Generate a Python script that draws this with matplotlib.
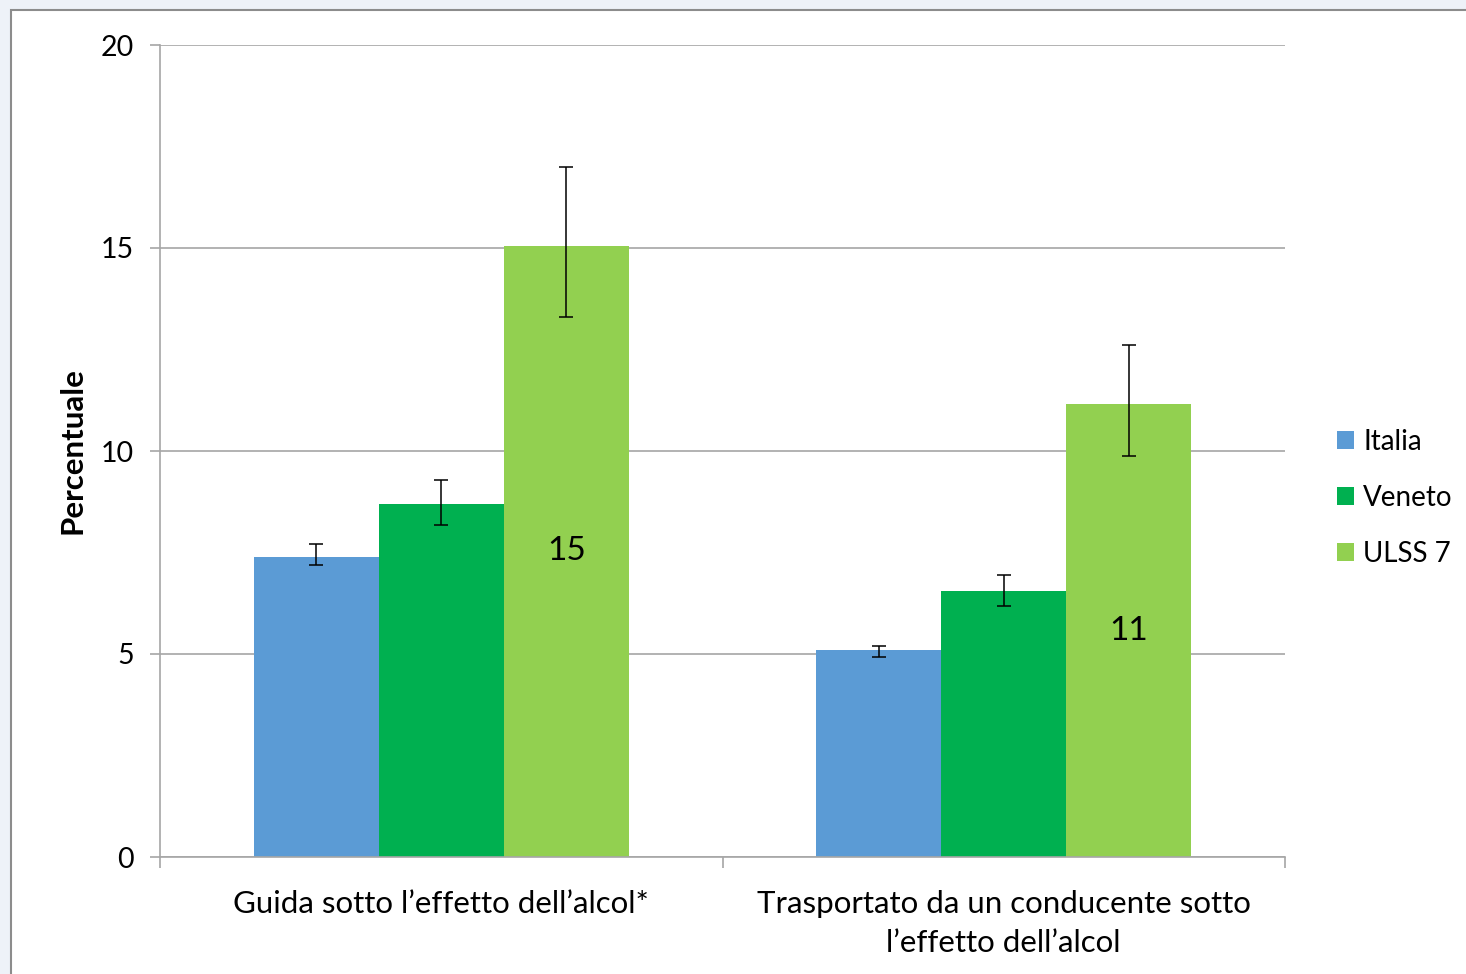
import numpy as np
import matplotlib.pyplot as plt
from matplotlib.patches import Rectangle

categories = ["Guida sotto l\u2019effetto dell\u2019alcol*",
              "Trasportato da un conducente sotto\nl\u2019effetto dell\u2019alcol"]
series = ["Italia", "Veneto", "ULSS 7"]
colors = ["#5B9BD5", "#00B050", "#92D050"]

italia = [7.4, 5.1]
veneto = [8.7, 6.55]
ulss7 = [15.05, 11.15]

italia_lo = [7.2, 4.93]
italia_hi = [7.7, 5.2]
veneto_lo = [8.18, 6.18]
veneto_hi = [9.28, 6.95]
ulss7_lo = [13.3, 9.88]
ulss7_hi = [17.0, 12.6]

values = [italia, veneto, ulss7]
lows = [italia_lo, veneto_lo, ulss7_lo]
highs = [italia_hi, veneto_hi, ulss7_hi]

plt.rcParams['font.family'] = ['Lato', 'DejaVu Sans']

fig = plt.figure(figsize=(14.66, 9.74), dpi=100)
fig.patch.set_facecolor('#eef2f8')
# white chart panel with grey frame
fig.patches.append(Rectangle((11 / 1466, -0.05), 1.1, 1 - 10 / 974 + 0.05,
                             transform=fig.transFigure, facecolor='white',
                             edgecolor='#8c8c8c', linewidth=1.5, zorder=-10))

ax = fig.add_axes([160 / 1466, 1 - 857 / 974, 1125 / 1466, 812 / 974])
ax.set_zorder(1)
ax.set_facecolor('white')

x = np.arange(len(categories))
w = 0.2222
for i, (name, vals, lo, hi, c) in enumerate(zip(series, values, lows, highs, colors)):
    pos = x + (i - 1) * w
    ax.bar(pos, vals, width=w, color=c, label=name, zorder=2)
    err = [np.array(vals) - np.array(lo), np.array(hi) - np.array(vals)]
    ax.errorbar(pos, vals, yerr=err, fmt='none', ecolor='black',
                elinewidth=1.1, capsize=5, capthick=1.1, zorder=3)

# data labels for ULSS 7
for xi, v in zip(x + w, ulss7):
    ax.text(xi, v / 2, f"{round(v):d}", ha='center', va='center',
            fontsize=24, color='black', zorder=4)

ax.set_xlim(-0.5, 1.5)
ax.set_ylim(0, 20)
ax.set_yticks([0, 5, 10, 15, 20])
ax.yaxis.grid(True, color='#a6a6a6', linewidth=1.2, zorder=0)
ax.set_axisbelow(True)

ax.set_xticks(x)
ax.set_xticklabels(categories, fontsize=22.5, linespacing=1.45)
ax.set_xticks([-0.5, 0.5, 1.5], minor=True)
ax.tick_params(axis='x', which='major', length=0, pad=24)
ax.tick_params(axis='x', which='minor', length=8, color='#a6a6a6', width=1.2)
ax.tick_params(axis='y', length=7, color='#a6a6a6', width=1.2, labelsize=20.5, pad=12)

for s in ['top', 'right']:
    ax.spines[s].set_visible(False)
for s in ['left', 'bottom']:
    ax.spines[s].set_color('#a6a6a6')
    ax.spines[s].set_linewidth(1.2)

ax.set_ylabel('Percentuale', fontsize=22.5, fontweight='bold', labelpad=10)

ax.legend(loc='center left', bbox_to_anchor=(1.024, 0.442), frameon=False,
          fontsize=20, handlelength=0.6, handleheight=0.6, handletextpad=0.35,
          labelspacing=1.08)

fig.savefig('out.png', dpi=100, facecolor=fig.get_facecolor())
